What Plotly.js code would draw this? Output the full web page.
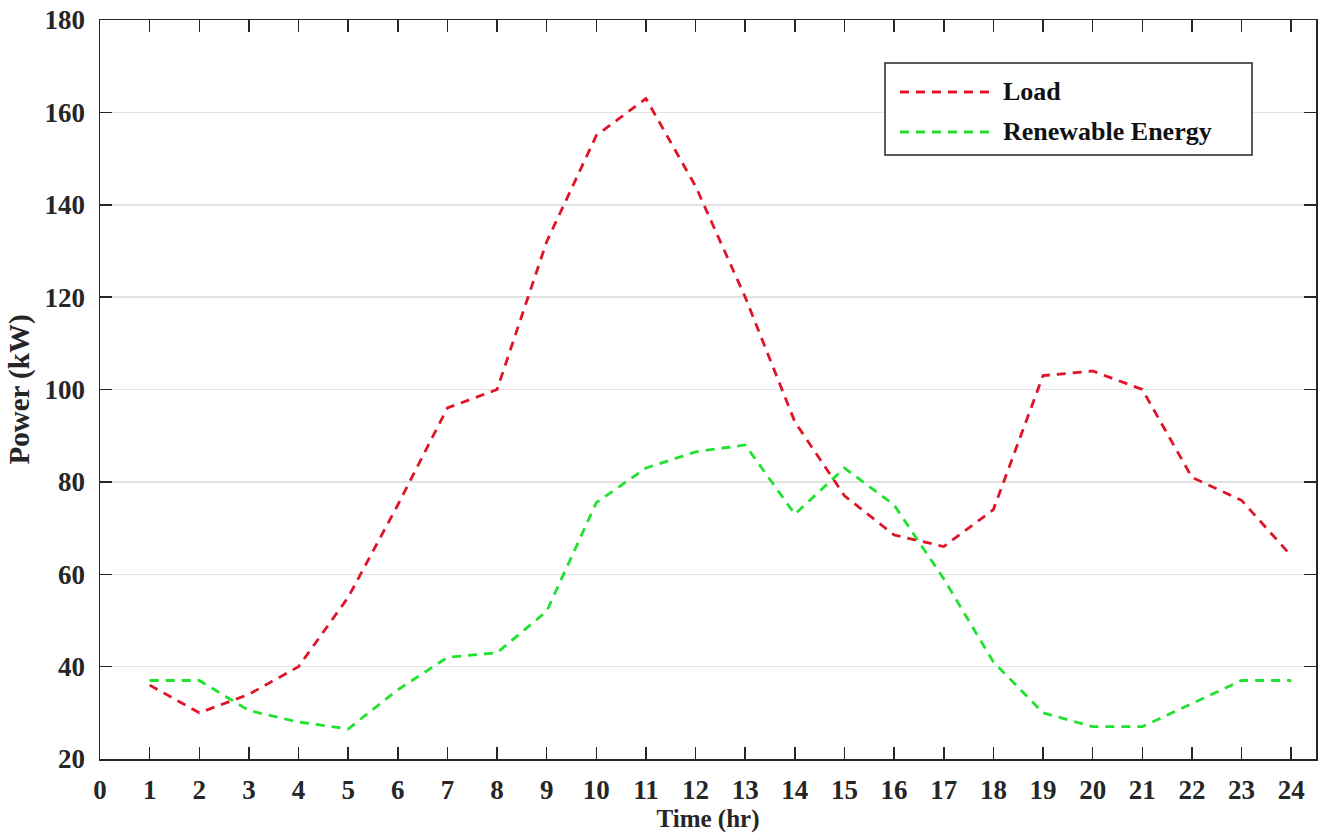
<!DOCTYPE html>
<html>
<head>
<meta charset="utf-8">
<script src="https://cdn.plot.ly/plotly-3.0.1.min.js"></script>
<style>html,body{margin:0;padding:0;background:#fff;}#chart{width:1322px;height:838px;}</style>
</head>
<body>
<div id="chart"></div>
<script>
// ---- data ----
const hours = [1,2,3,4,5,6,7,8,9,10,11,12,13,14,15,16,17,18,19,20,21,22,23,24];
const loadKW = [36,30,34,40,55,75,96,100,132,155,163,144,120,93,77,68.5,66,74,103,104,100,81,76,64];
const renewableKW = [37,37,30.5,28,26.5,35,42,43,52,75.5,83,86.5,88,73,83,75,59,41,30,27,27,32,37,37];
const seriesNames = ['Load', 'Renewable Energy'];
const xTicks = [0,1,2,3,4,5,6,7,8,9,10,11,12,13,14,15,16,17,18,19,20,21,22,23,24];
const yTicks = [20,40,60,80,100,120,140,160,180];

const colors = ['#e01428', '#1fe22f'];
const dashStyle = '9px,7px';
const fontFam = '"Liberation Serif", "Times New Roman", serif';
const axColor = '#262626';

const traces = [
  {x: hours, y: loadKW, name: seriesNames[0], type: 'scatter', mode: 'lines',
   line: {color: colors[0], width: 2.8, dash: dashStyle}, showlegend: false},
  {x: hours, y: renewableKW, name: seriesNames[1], type: 'scatter', mode: 'lines',
   line: {color: colors[1], width: 2.8, dash: dashStyle}, showlegend: false}
];

const tickFont = {family: fontFam, size: 27, color: axColor, weight: 'bold'};
const axisCommon = {
  showline: true, linecolor: axColor, linewidth: 1.5, mirror: 'ticks',
  ticks: 'inside', ticklen: 12, tickwidth: 1.5, tickcolor: axColor,
  zeroline: false, tickfont: tickFont, automargin: false
};

// custom legend box (long dashed samples like the reference)
const W = 1322, H = 838;
const plotL = 100, plotT = 20, plotW = 1216, plotH = 739;
const fx = v => (v - plotL) / plotW, fy = v => 1 - (v - plotT) / plotH;
const legX0 = 885, legY0 = 63, legX1 = 1252, legY1 = 155;
const layoutShapes = [
  {type: 'rect', xref: 'paper', yref: 'paper',
   x0: fx(legX0), x1: fx(legX1), y0: fy(legY1), y1: fy(legY0),
   line: {color: axColor, width: 1.5}, fillcolor: '#ffffff', layer: 'above'}
];
const legRows = [92, 132];
const annotations = [];
seriesNames.forEach((nm, i) => {
  layoutShapes.push({type: 'line', xref: 'paper', yref: 'paper',
    x0: fx(900), x1: fx(994), y0: fy(legRows[i]), y1: fy(legRows[i]),
    line: {color: colors[i], width: 2.8, dash: dashStyle}, layer: 'above'});
  annotations.push({xref: 'paper', yref: 'paper',
    x: fx(1001), y: fy(legRows[i]),
    xanchor: 'left', yanchor: 'middle', showarrow: false, text: nm,
    font: {family: fontFam, size: 26, color: '#111', weight: 'bold'}});
});

const layout = {
  width: W, height: H,
  margin: {l: 100, r: 6, t: 20, b: 79},
  paper_bgcolor: '#ffffff', plot_bgcolor: '#ffffff',
  showlegend: false,
  xaxis: Object.assign({}, axisCommon, {
    range: [0, 24.5], tickmode: 'array', tickvals: xTicks, ticktext: xTicks.map(String),
    showgrid: false, ticklabelstandoff: 6,
    title: {text: 'Time (hr)', font: {family: fontFam, size: 25, color: axColor, weight: 'bold'}, standoff: 2}
  }),
  yaxis: Object.assign({}, axisCommon, {
    range: [20, 180], tickmode: 'array', tickvals: yTicks, ticktext: yTicks.map(String),
    showgrid: true, gridcolor: '#e3e3e3', gridwidth: 1.5, ticklabelstandoff: 8,
    title: {text: 'Power (kW)', font: {family: fontFam, size: 29, color: axColor, weight: 'bold'}, standoff: 6}
  }),
  shapes: layoutShapes,
  annotations: annotations
};

Plotly.newPlot('chart', traces, layout, {displayModeBar: false, staticPlot: true});
</script>
</body>
</html>
